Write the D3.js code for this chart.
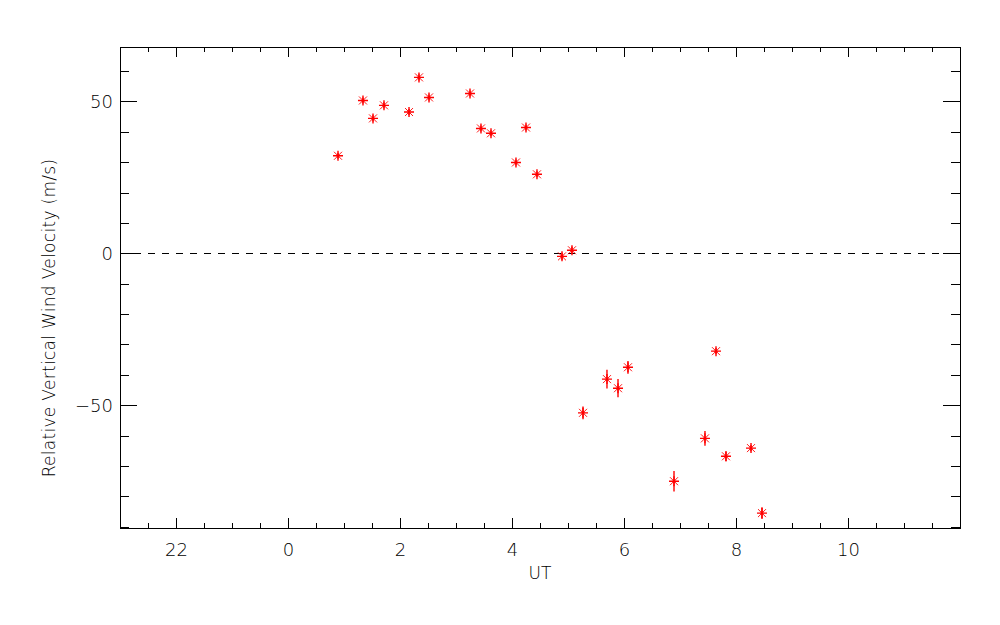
<!DOCTYPE html>
<html>
<head>
<meta charset="utf-8">
<script src="https://cdn.jsdelivr.net/npm/d3@7"></script>
<style>
  html, body { margin: 0; padding: 0; background: #fff; }
  svg { display: block; }
  .tick text { font-family: "DejaVu Sans", sans-serif; font-size: 18px; font-weight: 200; fill: #000; }
  .axis path, .axis line { stroke: #000; stroke-width: 1; shape-rendering: crispEdges; }
</style>
</head>
<body>
<svg id="chart" width="1000" height="625"></svg>
<script>
// ---- data ----
const ut  = [0.893, 1.339, 1.518, 1.714, 2.161, 2.339, 2.518, 3.250, 3.446, 3.625,
             4.071, 4.250, 4.446, 4.893, 5.071, 5.268, 5.696, 5.893, 6.071, 6.893,
             7.446, 7.643, 7.821, 8.268, 8.464];
const vel = [32.1, 50.3, 44.4, 48.7, 46.5, 57.9, 51.3, 52.6, 41.1, 39.5,
             29.9, 41.4, 26.0, -1.0, 1.0, -52.5, -41.4, -44.4, -37.5, -75.0,
             -60.9, -32.2, -66.8, -64.1, -85.5];
const err = [1.0, 1.0, 1.0, 1.0, 1.0, 1.0, 1.0, 1.0, 1.0, 1.0,
             1.0, 1.0, 1.0, 1.2, 1.2, 2.1, 3.1, 3.0, 2.1, 3.4,
             2.4, 1.0, 1.6, 1.0, 1.9];
const xMajorTicks = [-2, 0, 2, 4, 6, 8, 10];
const yMajorTicks = [-50, 0, 50];
const xDomain = [-3, 12];
const yDomain = [-90.4, 67.9];
const xTitle = "UT";
const yTitle = "Relative Vertical Wind Velocity (m/s)";

// ---- layout ----
const L = 120, R = 960, T = 47, B = 528;
const svg = d3.select("#chart");
const x = d3.scaleLinear().domain(xDomain).range([L, R]);
const y = d3.scaleLinear().domain(yDomain).range([B, T]);

const xMinor = d3.range(-3, 12.001, 0.5).filter(v => !xMajorTicks.includes(v));
const yMinor = d3.range(-90, 67, 10).filter(v => !yMajorTicks.includes(v));
const fmtX = v => String(v < 0 ? v + 24 : v);
const fmtY = v => v < 0 ? "\u2212" + Math.abs(v) : String(v);

// bottom axis (major + minor)
svg.append("g").attr("class", "axis").attr("transform", `translate(0,${B})`)
  .call(d3.axisBottom(x).tickValues(xMajorTicks).tickFormat(fmtX).tickSizeInner(-10).tickSizeOuter(0).tickPadding(15));
svg.append("g").attr("class", "axis").attr("transform", `translate(0,${B})`)
  .call(d3.axisBottom(x).tickValues(xMinor).tickFormat("").tickSizeInner(-5).tickSizeOuter(0))
  .select(".domain").remove();
// top axis
svg.append("g").attr("class", "axis").attr("transform", `translate(0,${T})`)
  .call(d3.axisTop(x).tickValues(xMajorTicks).tickFormat("").tickSizeInner(-10).tickSizeOuter(0));
svg.append("g").attr("class", "axis").attr("transform", `translate(0,${T})`)
  .call(d3.axisTop(x).tickValues(xMinor).tickFormat("").tickSizeInner(-5).tickSizeOuter(0))
  .select(".domain").remove();
// left axis
svg.append("g").attr("class", "axis").attr("transform", `translate(${L},0)`)
  .call(d3.axisLeft(y).tickValues(yMajorTicks).tickFormat(fmtY).tickSizeInner(-17).tickSizeOuter(0).tickPadding(7));
svg.append("g").attr("class", "axis").attr("transform", `translate(${L},0)`)
  .call(d3.axisLeft(y).tickValues(yMinor).tickFormat("").tickSizeInner(-9).tickSizeOuter(0))
  .select(".domain").remove();
// right axis
svg.append("g").attr("class", "axis").attr("transform", `translate(${R},0)`)
  .call(d3.axisRight(y).tickValues(yMajorTicks).tickFormat("").tickSizeInner(-17).tickSizeOuter(0));
svg.append("g").attr("class", "axis").attr("transform", `translate(${R},0)`)
  .call(d3.axisRight(y).tickValues(yMinor).tickFormat("").tickSizeInner(-9).tickSizeOuter(0))
  .select(".domain").remove();

// zero dashed line
svg.append("line")
  .attr("x1", x(xDomain[0])).attr("x2", x(xDomain[1]))
  .attr("y1", Math.round(y(0)) + 0.5).attr("y2", Math.round(y(0)) + 0.5)
  .attr("stroke", "#000").attr("stroke-width", 1).attr("stroke-dasharray", "7,7")
  .attr("shape-rendering", "crispEdges");

// titles
svg.append("text")
  .attr("x", (L + R) / 2).attr("y", 579)
  .attr("text-anchor", "middle")
  .style("font-family", "DejaVu Sans, sans-serif").style("font-size", "17px").style("font-weight", "200")
  .text(xTitle);
svg.append("text")
  .attr("transform", `translate(55,318) rotate(-90)`)
  .attr("text-anchor", "middle")
  .style("font-family", "DejaVu Sans, sans-serif").style("font-size", "17px").style("font-weight", "200")
  .attr("letter-spacing", "0.3")
  .text(yTitle);

// data points
const pts = ut.map((u, i) => ({ u, v: vel[i], e: err[i] }));
const red = "#ff0000";
const g = svg.append("g");
// error bars
g.selectAll("line.err").data(pts).join("line").attr("class", "err")
  .attr("x1", d => x(d.u)).attr("x2", d => x(d.u))
  .attr("y1", d => y(d.v - d.e)).attr("y2", d => y(d.v + d.e))
  .attr("stroke", red).attr("stroke-width", 1.4);
// asterisk markers
const a = 5, dg = 4;
const mk = g.selectAll("g.mk").data(pts).join("g").attr("class", "mk")
  .attr("transform", d => `translate(${x(d.u)},${y(d.v)})`);
mk.append("path").attr("d", `M${-a},0H${a}M0,${-a}V${a}`)
  .attr("stroke", red).attr("stroke-width", 1.4).attr("fill", "none");
mk.append("path").attr("d", `M${-dg},${-dg}L${dg},${dg}M${-dg},${dg}L${dg},${-dg}`)
  .attr("stroke", red).attr("stroke-width", 0.9).attr("fill", "none");
mk.append("circle").attr("r", 1.5).attr("fill", red);
</script>
</body>
</html>
